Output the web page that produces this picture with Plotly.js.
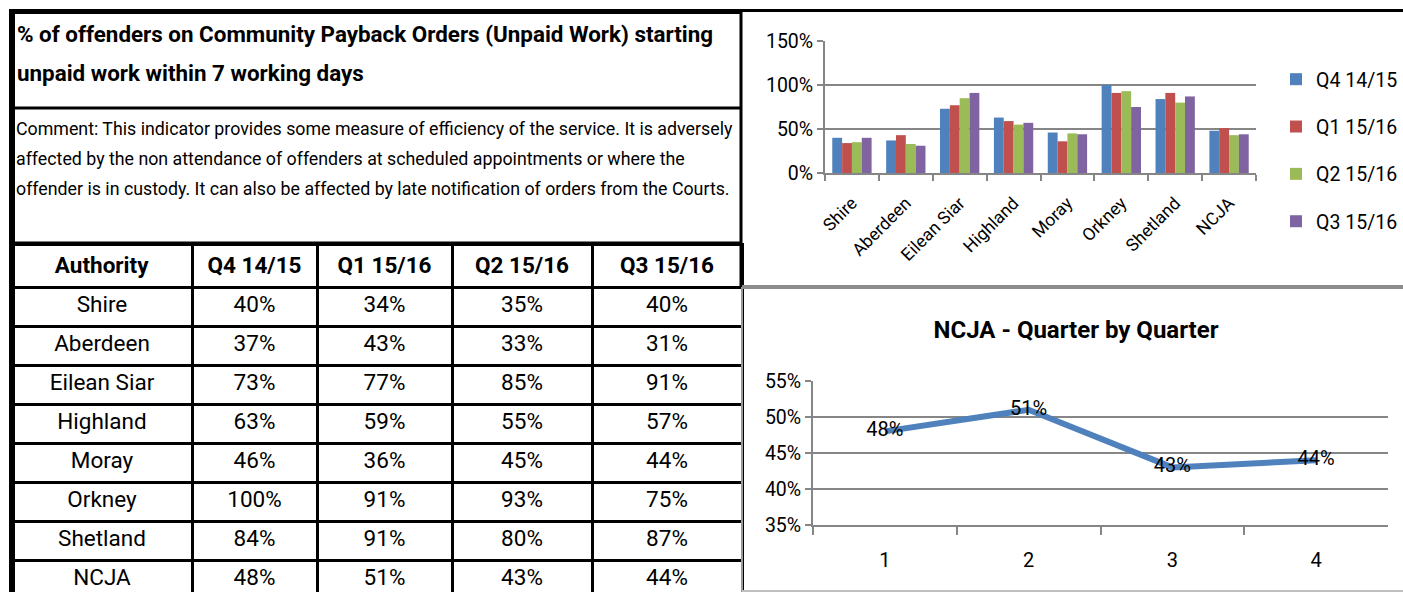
<!DOCTYPE html>
<html>
<head>
<meta charset="utf-8">
<script src="https://cdn.plot.ly/plotly-3.0.1.min.js"></script>
<style>
html,body{margin:0;padding:0;background:#fff;}
#chart{width:1403px;height:592px;}
#chart .scrollbar-kit{display:none !important;}
</style>
</head>
<body>
<div id="chart"></div>
<script>
// ---- data ----
const authorities = ['Shire', 'Aberdeen', 'Eilean Siar', 'Highland', 'Moray', 'Orkney', 'Shetland', 'NCJA'];
const quarterNames = ['Q4 14/15', 'Q1 15/16', 'Q2 15/16', 'Q3 15/16'];
const q4_1415 = [40, 37, 73, 63, 46, 100, 84, 48];
const q1_1516 = [34, 43, 77, 59, 36, 91, 91, 51];
const q2_1516 = [35, 33, 85, 55, 45, 93, 80, 43];
const q3_1516 = [40, 31, 91, 57, 44, 75, 87, 44];
const quarterNumbers = ['1', '2', '3', '4'];
const titleLines = ['% of offenders on Community Payback Orders (Unpaid Work) starting', 'unpaid work within 7 working days'];
const commentLines = [
  'Comment: This indicator provides some measure of efficiency of the service. It is adversely',
  'affected by the non attendance of offenders at scheduled appointments or where the',
  'offender is in custody. It can also be affected by late notification of orders from the Courts.'
];
const lineTitle = 'NCJA - Quarter by Quarter';

// ---- styling ----
const W = 1403, H = 592;
const FONT = 'Roboto, sans-serif';
const colors = ['#4F81BD', '#C0504D', '#9BBB59', '#8064A2'];
const series = [q4_1415, q1_1516, q2_1516, q3_1516];
const px = v => v / W;
const py = v => (H - v) / H;

const traces = [];

// table
const ncjaIndex = authorities.indexOf('NCJA');
traces.push({
  type: 'table',
  domain: {x: [px(12), px(742)], y: [0, py(244)]},
  columnwidth: [180, 125, 135, 140, 150],
  header: {
    values: ['Authority'].concat(quarterNames).map(s => '<b>' + s + '</b>'),
    align: 'center',
    height: 43,
    line: {color: '#000', width: 3},
    fill: {color: '#fff'},
    font: {family: FONT, size: 22.5, color: '#000'}
  },
  cells: {
    values: [authorities].concat(series.map(s => s.map(v => v + '%'))),
    align: 'center',
    height: 39,
    line: {color: '#000', width: 3},
    fill: {color: '#fff'},
    font: {family: FONT, size: 22.5, color: '#000'}
  }
});

// bar chart
series.forEach((s, i) => {
  traces.push({
    type: 'bar', x: authorities, y: s, name: quarterNames[i],
    marker: {color: colors[i]}, xaxis: 'x', yaxis: 'y',
    legendgroup: 'g' + i, hoverinfo: 'none'
  });
});

// line chart (NCJA quarter by quarter)
const ncjaSeries = series.map(s => s[ncjaIndex]);
traces.push({
  type: 'scatter', mode: 'lines+text', x: quarterNumbers, y: ncjaSeries,
  text: ncjaSeries.map(v => v + '%'), textposition: 'middle center',
  textfont: {family: FONT, size: 20, color: '#000'},
  line: {color: '#4F81BD', width: 6}, xaxis: 'x2', yaxis: 'y2',
  showlegend: false, hoverinfo: 'none', cliponaxis: false
});

const shapes = [
  {type: 'line', xref: 'paper', yref: 'paper', x0: px(9), x1: px(742), y0: py(11.5), y1: py(11.5), line: {color: '#000', width: 5}},
  {type: 'line', xref: 'paper', yref: 'paper', x0: px(742), x1: 1, y0: py(10.5), y1: py(10.5), line: {color: '#000', width: 3}},
  {type: 'line', xref: 'paper', yref: 'paper', x0: px(12), x1: px(12), y0: py(9), y1: 0, line: {color: '#000', width: 6}},
  {type: 'line', xref: 'paper', yref: 'paper', x0: px(12), x1: px(742), y0: py(108), y1: py(108), line: {color: '#000', width: 3}},
  {type: 'line', xref: 'paper', yref: 'paper', x0: px(12), x1: px(742), y0: py(243), y1: py(243), line: {color: '#000', width: 3}},
  {type: 'line', xref: 'paper', yref: 'paper', x0: px(741), x1: px(741), y0: py(9), y1: py(287), line: {color: '#000', width: 3}},
  {type: 'line', xref: 'paper', yref: 'paper', x0: px(742), x1: px(742), y0: py(287), y1: 0, line: {color: '#999', width: 2}},
  {type: 'line', xref: 'paper', yref: 'paper', x0: px(742), x1: 1, y0: py(287), y1: py(287), line: {color: '#8c8c8c', width: 4}},
  {type: 'line', xref: 'paper', yref: 'paper', x0: px(742), x1: 1, y0: py(591), y1: py(591), line: {color: '#bfbfbf', width: 2}}
];

const annotations = [];
titleLines.forEach((t, i) => annotations.push({
  xref: 'paper', yref: 'paper', x: px(15), y: py(34 + i * 39), xanchor: 'left', yanchor: 'middle',
  text: '<b>' + t + '</b>', showarrow: false, font: {family: FONT, size: 22.4, color: '#000'}
}));
commentLines.forEach((t, i) => annotations.push({
  xref: 'paper', yref: 'paper', x: px(14), y: py(128 + i * 30), xanchor: 'left', yanchor: 'middle',
  text: t, showarrow: false, font: {family: FONT, size: 17.8, color: '#000'}
}));

const gridColor = '#868686';
const layout = {
  width: W, height: H,
  margin: {l: 0, r: 0, t: 0, b: 0},
  paper_bgcolor: '#fff', plot_bgcolor: '#fff',
  font: {family: FONT, color: '#000'},
  showlegend: true,
  barmode: 'group', bargap: 0.27, bargroupgap: 0,
  title: {
    text: '<b>' + lineTitle + '</b>', x: px(1076), xanchor: 'center', y: py(330), yanchor: 'middle',
    font: {family: FONT, size: 24, color: '#000'}
  },
  legend: {
    x: px(1276), y: py(60), xanchor: 'left', yanchor: 'top',
    font: {family: FONT, size: 19.5, color: '#000'},
    tracegroupgap: 19, itemwidth: 30, bgcolor: 'rgba(0,0,0,0)'
  },
  xaxis: {
    domain: [px(825), px(1256)], anchor: 'y', type: 'category',
    showgrid: false, showline: true, linecolor: gridColor, linewidth: 2,
    ticks: 'outside', tickson: 'boundaries', ticklen: 6, tickcolor: gridColor, tickwidth: 2,
    tickangle: -45, ticklabelstandoff: 11, tickfont: {family: FONT, size: 17.5, color: '#000'}
  },
  yaxis: {
    domain: [py(173), py(41)], anchor: 'x', range: [0, 150], dtick: 50, ticksuffix: '%',
    showgrid: true, gridcolor: gridColor, gridwidth: 2, zeroline: false,
    showline: true, linecolor: gridColor, linewidth: 2,
    ticks: 'outside', ticklen: 6, tickcolor: gridColor, tickwidth: 2,
    tickfont: {family: FONT, size: 19.5, color: '#000'}
  },
  xaxis2: {
    domain: [px(813), px(1388)], anchor: 'y2', type: 'category', range: [-0.5, 3.5],
    showgrid: false, showline: true, linecolor: gridColor, linewidth: 2,
    ticks: 'outside', tickson: 'boundaries', ticklen: 8, tickcolor: gridColor, tickwidth: 2,
    ticklabelstandoff: 16, tickfont: {family: FONT, size: 20, color: '#000'}
  },
  yaxis2: {
    domain: [py(525), py(381)], anchor: 'x2', range: [35, 55], dtick: 5, ticksuffix: '%',
    showgrid: true, gridcolor: gridColor, gridwidth: 2, zeroline: false,
    showline: true, linecolor: gridColor, linewidth: 2,
    ticks: 'outside', ticklen: 6, tickcolor: gridColor, tickwidth: 2,
    tickfont: {family: FONT, size: 19.5, color: '#000'}
  },
  shapes: shapes,
  annotations: annotations
};

Plotly.newPlot('chart', traces, layout, {displayModeBar: false, staticPlot: true});
</script>
</body>
</html>
